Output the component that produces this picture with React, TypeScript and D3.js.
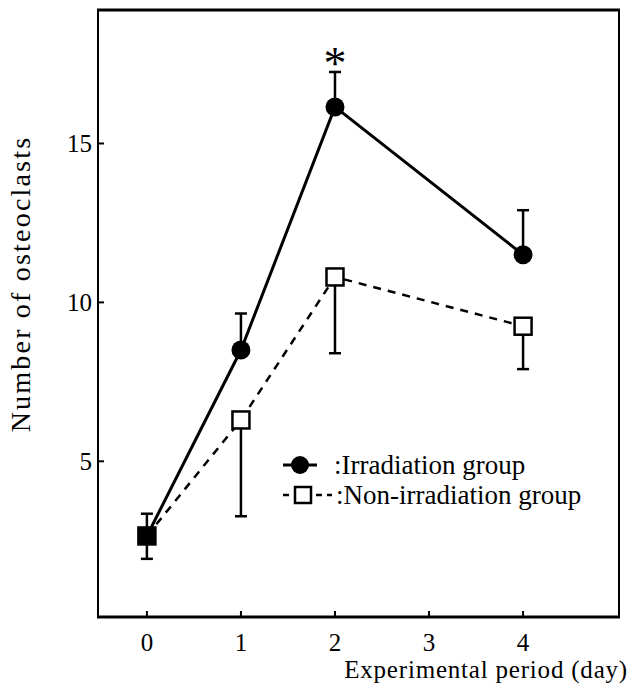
import React from 'react';
import * as d3 from 'd3';

const days = [0, 1, 2, 4];
const irradiation = [2.65, 8.5, 16.15, 11.5];
const irradiationErr = [0.7, 1.15, 1.1, 1.4];
const nonIrradiation = [2.65, 6.3, 10.8, 9.25];
const nonIrradiationErr = [0.72, 3.03, 2.4, 1.35];
const xTicks = [0, 1, 2, 3, 4];
const yTicks = [5, 10, 15];
const significant = [false, false, true, false];

const W = 634;
const H = 687;
const box = { left: 98, right: 619, top: 10, bottom: 617 };
const FONT = '"Liberation Serif", "DejaVu Serif", Times, serif';

export default function App() {
  const x = d3.scaleLinear().domain([-0.52, 5.02]).range([box.left, box.right]);
  const y = d3.scaleLinear().domain([0.1, 19.2]).range([box.bottom, box.top]);

  const line = d3.line<number>()
    .x((_, i) => x(days[i]))
    .y(d => y(d));

  const sq = 17;
  const cap = 6;

  return (
    <svg width={W} height={H} style={{ position: 'absolute', left: 0, top: 0, background: '#fff' }}>
      {/* frame */}
      <line x1={box.left} x2={box.left} y1={box.top} y2={box.bottom} stroke="#000" strokeWidth={2} />
      <line x1={box.right} x2={box.right} y1={box.top} y2={box.bottom} stroke="#000" strokeWidth={2} />
      <line x1={box.left - 1} x2={box.right + 1} y1={box.top} y2={box.top} stroke="#000" strokeWidth={3} />
      <line x1={box.left - 1} x2={box.right + 1} y1={box.bottom} y2={box.bottom} stroke="#000" strokeWidth={3} />

      {/* y ticks */}
      {yTicks.map(t => (
        <g key={'y' + t}>
          <line x1={box.left} x2={box.left + 6} y1={y(t)} y2={y(t)} stroke="#000" strokeWidth={2} />
          <text x={92} y={y(t)} dy="0.35em" textAnchor="end" fontFamily={FONT} fontSize={25}>{t}</text>
        </g>
      ))}
      {/* x ticks */}
      {xTicks.map(t => (
        <g key={'x' + t}>
          <line x1={x(t)} x2={x(t)} y1={box.bottom} y2={box.bottom - 6} stroke="#000" strokeWidth={2} />
          <text x={x(t)} y={651} textAnchor="middle" fontFamily={FONT} fontSize={25}>{t}</text>
        </g>
      ))}

      <text x={628} y={678} textAnchor="end" fontFamily={FONT} fontSize={25} letterSpacing={0.8}>Experimental period (day)</text>
      <text transform={`translate(30,284) rotate(-90)`} textAnchor="middle" fontFamily={FONT} fontSize={28} letterSpacing={2.2}>Number of osteoclasts</text>

      {/* lines */}
      <path d={line(nonIrradiation) || ''} fill="none" stroke="#000" strokeWidth={2.5} strokeDasharray="8,7" />
      <path d={line(irradiation) || ''} fill="none" stroke="#000" strokeWidth={3} />

      {/* error bars: non-irradiation downward */}
      {nonIrradiation.map((v, i) => (
        <g key={'ne' + i}>
          <line x1={x(days[i])} x2={x(days[i])} y1={y(v)} y2={y(v - nonIrradiationErr[i])} stroke="#000" strokeWidth={2.5} />
          <line x1={x(days[i]) - cap} x2={x(days[i]) + cap} y1={y(v - nonIrradiationErr[i])} y2={y(v - nonIrradiationErr[i])} stroke="#000" strokeWidth={2.5} />
        </g>
      ))}
      {/* error bars: irradiation upward */}
      {irradiation.map((v, i) => (
        <g key={'ie' + i}>
          <line x1={x(days[i])} x2={x(days[i])} y1={y(v)} y2={y(v + irradiationErr[i])} stroke="#000" strokeWidth={2.5} />
          <line x1={x(days[i]) - cap} x2={x(days[i]) + cap} y1={y(v + irradiationErr[i])} y2={y(v + irradiationErr[i])} stroke="#000" strokeWidth={2.5} />
        </g>
      ))}

      {/* markers */}
      {nonIrradiation.map((v, i) => (
        <rect key={'ns' + i} x={x(days[i]) - sq / 2} y={y(v) - sq / 2} width={sq} height={sq}
          fill={v === irradiation[i] ? '#000' : '#fff'} stroke="#000" strokeWidth={2.5} />
      ))}
      {irradiation.map((v, i) => (
        v === nonIrradiation[i] ? null :
          <circle key={'ic' + i} cx={x(days[i])} cy={y(v)} r={9.5} fill="#000" />
      ))}

      {/* significance */}
      {significant.map((s, i) => s ? (
        <text key={'s' + i} x={x(days[i])} y={y(irradiation[i] + irradiationErr[i]) + 7} textAnchor="middle" fontFamily={FONT} fontSize={46}>*</text>
      ) : null)}

      {/* legend */}
      <g fontFamily={FONT} fontSize={27}>
        <line x1={283} x2={317} y1={465} y2={465} stroke="#000" strokeWidth={3} />
        <circle cx={300} cy={465} r={9} fill="#000" />
        <text x={334} y={465} dy="0.35em">:Irradiation group</text>
        <line x1={283} x2={332} y1={495} y2={495} stroke="#000" strokeWidth={2.5} strokeDasharray="6,5" />
        <rect x={295} y={487} width={16} height={16} fill="#fff" stroke="#000" strokeWidth={2.5} />
        <text x={336} y={495} dy="0.35em">:Non-irradiation group</text>
      </g>
    </svg>
  );
}
